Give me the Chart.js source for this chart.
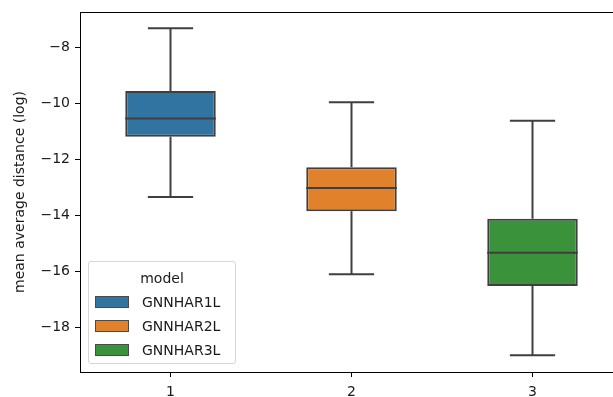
<!DOCTYPE html>
<html>
<head>
<meta charset="utf-8">
<script src="https://cdn.jsdelivr.net/npm/chart.js@4.4.1/dist/chart.umd.min.js"></script>
<style>
  html, body { margin: 0; padding: 0; background: #fff; overflow: hidden; }
  #wrap { position: relative; width: 630px; height: 397px; }
  #legend {
    position: absolute;
    width: 148px;
    box-sizing: border-box;
    padding: 4px 0 1px 0;
    border: 1px solid #d6d6d6;
    border-radius: 3px;
    background: rgba(255, 255, 255, 0.8);
    font-family: 'DejaVu Sans', sans-serif;
    font-size: 14px;
    color: #1a1a1a;
  }
  #legend .title { text-align: center; height: 24px; line-height: 24px; }
  #legend .row { height: 24px; display: flex; align-items: center; }
  #legend .swatch { width: 32px; height: 10px; margin: 0 13px 0 6px; border: 1px solid #4a4a4a; }
</style>
</head>
<body>
<div id="wrap">
  <canvas id="boxChart" width="630" height="397"></canvas>
  <div id="legend"></div>
</div>
<script>
// Dữ liệu boxplot
const categories = ['1', '2', '3'];
const models = ['GNNHAR1L', 'GNNHAR2L', 'GNNHAR3L'];
const whiskerLow = [-13.35, -16.11, -19.0];
const q1 = [-11.2, -13.86, -16.53];
const median = [-10.55, -13.03, -15.34];
const q3 = [-9.57, -12.29, -14.13];
const whiskerHigh = [-7.33, -9.97, -10.63];
const yTicks = [-18, -16, -14, -12, -10, -8];

const colors = ['#3274a1', '#e1812c', '#3a923a'];
const lineColor = '#3f3f3f';
const fontFamily = "'DejaVu Sans', sans-serif";

// Vẽ râu, nắp và trung vị qua các scale của Chart.js
const whiskerPlugin = {
    id: 'whiskers',
    afterDatasetsDraw(chart) {
        const ctx = chart.ctx;
        const y = chart.scales.y;
        ctx.save();
        ctx.strokeStyle = lineColor;
        ctx.lineWidth = 2;
        ctx.lineCap = 'butt';
        chart.data.datasets.forEach((ds, i) => {
            const bar = chart.getDatasetMeta(i).data[i];
            if (!bar) return;
            const x = bar.x;
            const half = bar.width / 2;
            const cap = half / 2;
            const line = (x1, y1, x2, y2) => {
                ctx.beginPath();
                ctx.moveTo(x1, y1);
                ctx.lineTo(x2, y2);
                ctx.stroke();
            };
            // trung vị
            line(x - half, y.getPixelForValue(median[i]), x + half, y.getPixelForValue(median[i]));
            // râu trên / dưới
            line(x, y.getPixelForValue(q3[i]), x, y.getPixelForValue(whiskerHigh[i]));
            line(x, y.getPixelForValue(q1[i]), x, y.getPixelForValue(whiskerLow[i]));
            // nắp
            line(x - cap, y.getPixelForValue(whiskerHigh[i]), x + cap, y.getPixelForValue(whiskerHigh[i]));
            line(x - cap, y.getPixelForValue(whiskerLow[i]), x + cap, y.getPixelForValue(whiskerLow[i]));
        });
        ctx.restore();
    }
};

// Khung trục kiểu matplotlib
const framePlugin = {
    id: 'frame',
    afterDraw(chart) {
        const {ctx, chartArea: a} = chart;
        ctx.save();
        ctx.strokeStyle = '#000';
        ctx.lineWidth = 1;
        ctx.strokeRect(a.left + 0.5, a.top + 0.5, a.right - a.left, a.bottom - a.top);
        ctx.restore();
    }
};

// Chú thích HTML ở góc dưới trái
const htmlLegend = {
    id: 'htmlLegend',
    afterRender(chart) {
        const box = document.getElementById('legend');
        if (box.dataset.done) return;
        box.dataset.done = '1';
        let html = '<div class="title">model</div>';
        chart.data.datasets.forEach(ds => {
            html += `<div class="row"><span class="swatch" style="background:${ds.backgroundColor}"></span>${ds.label}</div>`;
        });
        box.innerHTML = html;
        const a = chart.chartArea;
        box.style.left = (a.left + 8) + 'px';
        box.style.top = (a.bottom - 8 - box.offsetHeight) + 'px';
    }
};

const datasets = models.map((m, i) => ({
    label: m,
    data: categories.map((c, j) => (j === i ? [q1[j], q3[j]] : null)),
    backgroundColor: colors[i],
    borderColor: lineColor,
    borderWidth: 2,
    borderSkipped: false,
    grouped: false,
    barPercentage: 0.5,
    categoryPercentage: 1
}));

new Chart(document.getElementById('boxChart'), {
    type: 'bar',
    data: { labels: categories, datasets: datasets },
    options: {
        responsive: false,
        animation: false,
        devicePixelRatio: 1,
        layout: { padding: { top: 12, left: 0, right: 7, bottom: 0 } },
        plugins: { legend: { display: false }, tooltip: { enabled: false } },
        scales: {
            x: {
                border: { display: false },
                grid: { offset: false, drawOnChartArea: false, drawTicks: true, tickLength: 5, color: '#000', lineWidth: 1 },
                ticks: { color: '#1a1a1a', padding: 7, font: { family: fontFamily, size: 14 } },
                afterFit(scale) {
                    scale.height = 25;
                    scale.paddingLeft = 0;
                    scale.paddingRight = 0;
                }
            },
            y: {
                min: -19.6,
                max: -6.75,
                border: { display: false },
                grid: { drawOnChartArea: false, drawTicks: true, tickLength: 5, color: '#000', lineWidth: 1 },
                afterBuildTicks(scale) { scale.ticks = yTicks.map(v => ({ value: v })); },
                ticks: {
                    color: '#1a1a1a',
                    padding: 5,
                    font: { family: fontFamily, size: 14 },
                    callback: v => (v < 0 ? '\u2212' + Math.abs(v) : String(v))
                },
                title: {
                    display: true,
                    text: 'mean average distance (log)',
                    color: '#1a1a1a',
                    font: { family: fontFamily, size: 14 },
                    padding: { top: 12, bottom: 0 }
                },
                afterFit(scale) {
                    scale.width = 80;
                    scale.paddingTop = 0;
                    scale.paddingBottom = 0;
                }
            }
        }
    },
    plugins: [whiskerPlugin, framePlugin, htmlLegend]
});
</script>
</body>
</html>
